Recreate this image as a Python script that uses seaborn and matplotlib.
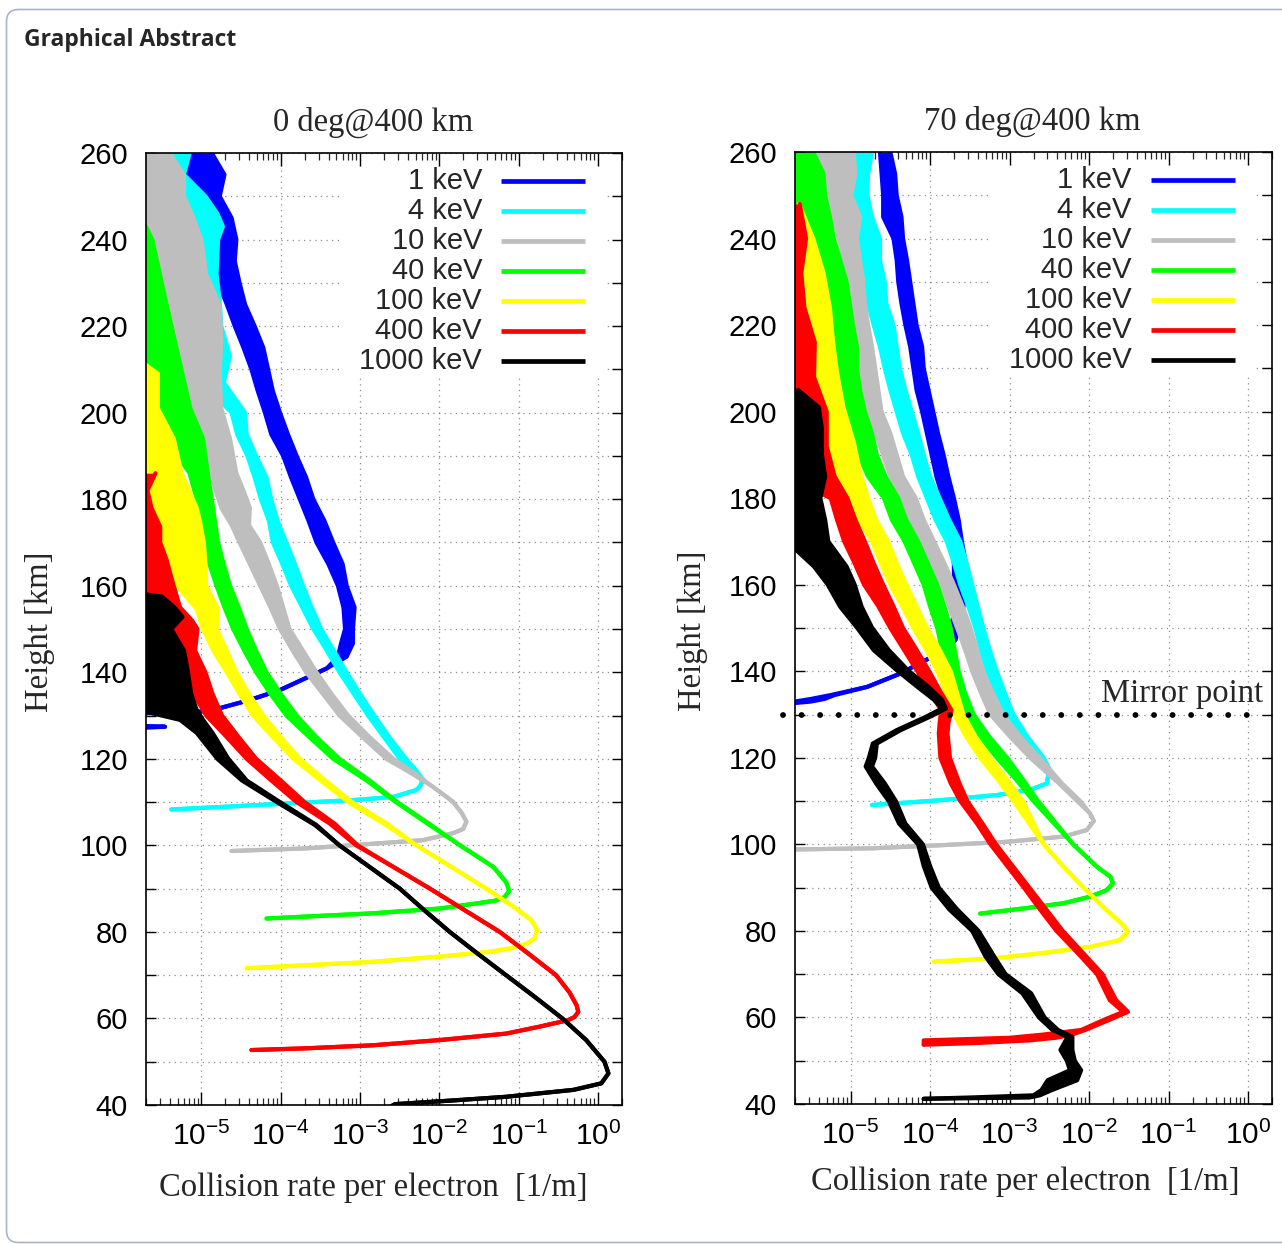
import numpy as np
import matplotlib
matplotlib.use("Agg")
import matplotlib.pyplot as plt
import matplotlib.ticker as mticker
import matplotlib.patches as mpatches
import matplotlib.transforms as mtransforms
import seaborn as sns

sns.set_theme(style="white")
plt.rcParams["font.family"] = ["Liberation Sans", "DejaVu Sans"]
plt.rcParams["mathtext.fontset"] = "custom"
plt.rcParams["mathtext.rm"] = "Liberation Sans"
plt.rcParams["mathtext.it"] = "Liberation Sans:italic"
plt.rcParams["mathtext.bf"] = "Liberation Sans:bold"
SERIF = ["Liberation Serif", "DejaVu Serif"]

# ---------------------------------------------------------------------------
# Collision rate per electron vs. height.
# Each row: (height [km], log10 rate lower edge, log10 rate upper edge).
# Where the Monte-Carlo noise is large the two edges differ; EDGE means the
# noisy trace reaches the left boundary of the plot.
# ---------------------------------------------------------------------------
EDGE = -5.8
ENERGY_LABELS = ["1 keV", "4 keV", "10 keV", "40 keV", "100 keV", "400 keV", "1000 keV"]
ENERGY_COLORS = ["#0000ff", "#00ffff", "#bebebe", "#00ff00", "#ffff00", "#ff0000", "#000000"]
PANEL_TITLES = ["0 deg@400 km", "70 deg@400 km"]
MIRROR_HEIGHT = 130.0

# ---- pitch angle 0 deg ----
pa0_1keV = [
    (260, -5.19, -4.87), (255, -5.19, -4.71), (250, -5.10, -4.77), (245, -5.02, -4.62),
    (240, -4.96, -4.56), (235, -4.92, -4.58), (230, -4.79, -4.52), (225, -4.68, -4.45),
    (220, -4.58, -4.33), (215, -4.47, -4.22), (210, -4.37, -4.16), (205, -4.29, -4.10),
    (200, -4.20, -4.01), (195, -4.12, -3.91), (190, -3.97, -3.80), (185, -3.87, -3.68),
    (180, -3.76, -3.59), (175, -3.65, -3.45), (170, -3.55, -3.34), (165, -3.40, -3.22),
    (160, -3.28, -3.17), (155, -3.21, -3.07), (150, -3.19, -3.09), (146.7, -3.24, -3.09),
    (143.6, -3.28, -3.17), (140.9, -3.42, -3.42), (135.9, -4.01, -4.01), (133.6, -4.39, -4.39),
    (131.7, -4.77, -4.77), (130.9, -5.02, -5.02), (130.5, EDGE, EDGE), (127.6, EDGE, EDGE),
    (127.4, -5.46, -5.46), (127.2, EDGE, EDGE),
]
pa0_4keV = [
    (260, EDGE, -5.15), (255, EDGE, -5.22), (250, EDGE, -4.95), (246, EDGE, -4.80),
    (243, EDGE, -4.73), (240, EDGE, -4.79), (232, EDGE, -4.81), (226, EDGE, -4.77),
    (220, EDGE, -4.75), (213, -5.20, -4.64), (207, -5.00, -4.72), (200, -4.62, -4.45),
    (195, -4.55, -4.43), (190, -4.42, -4.31), (185, -4.33, -4.18), (180, -4.25, -4.12),
    (175, -4.15, -4.04), (170, -4.10, -3.93), (165, -3.98, -3.82), (160, -3.87, -3.72),
    (155, -3.73, -3.61), (150, -3.59, -3.49), (145, -3.42, -3.33), (140, -3.26, -3.17),
    (135, -3.08, -3.00), (130, -2.90, -2.82), (125, -2.70, -2.63), (120, -2.50, -2.42),
    (117.5, -2.32, -2.30), (115.1, -2.22, -2.20), (113.8, -2.24, -2.24), (112.8, -2.29, -2.29),
    (111.2, -2.58, -2.58), (110.5, -3.05, -3.05), (109.7, -3.89, -3.89), (108.9, -4.73, -4.73),
    (108.3, -5.38, -5.38),
]
pa0_10keV = [
    (260, EDGE, -5.40), (255, EDGE, -5.22), (250, EDGE, -5.22), (245, EDGE, -5.10),
    (240, EDGE, -5.00), (232, EDGE, -4.94), (225, EDGE, -4.77), (217, EDGE, -4.75),
    (209, EDGE, -4.77), (201, EDGE, -4.75), (194, -5.30, -4.64), (190, -5.00, -4.60),
    (186, -4.89, -4.56), (182, -4.82, -4.47), (178, -4.75, -4.39), (174, -4.62, -4.40),
    (170, -4.52, -4.26), (165, -4.39, -4.15), (160, -4.26, -4.05), (155, -4.13, -3.97),
    (150, -4.01, -3.89), (145, -3.85, -3.72), (140, -3.68, -3.55), (135, -3.47, -3.36),
    (130, -3.26, -3.15), (125, -2.97, -2.88), (120, -2.67, -2.58), (116.5, -2.34, -2.30),
    (113.5, -2.08, -2.08), (110.1, -1.83, -1.83), (107.5, -1.72, -1.72), (105.5, -1.66, -1.66),
    (103.8, -1.70, -1.70), (102.8, -1.83, -1.83), (101.2, -2.21, -2.21), (100.1, -3.05, -3.05),
    (99.3, -3.68, -3.68), (98.7, -4.62, -4.62),
]
pa0_40keV = [
    (243, EDGE, -5.70), (240, EDGE, -5.62), (235, EDGE, -5.56), (230, EDGE, -5.50),
    (225, EDGE, -5.44), (217, EDGE, -5.34), (209, EDGE, -5.24), (201, EDGE, -5.14),
    (194, -5.45, -4.98), (186, -5.15, -4.92), (180, -5.06, -4.87), (175, -5.04, -4.83),
    (170, -5.02, -4.79), (165, -4.90, -4.72), (160, -4.81, -4.64), (155, -4.71, -4.53),
    (150, -4.60, -4.43), (145, -4.46, -4.31), (140, -4.31, -4.18), (135, -4.13, -4.00),
    (130, -3.93, -3.80), (125, -3.64, -3.55), (120, -3.34, -3.26), (115, -2.92, -2.88),
    (110, -2.55, -2.53), (105, -2.15, -2.13), (100, -1.74, -1.74), (95, -1.32, -1.32),
    (91.5, -1.16, -1.16), (89.5, -1.12, -1.12), (88, -1.18, -1.18), (87.2, -1.30, -1.30),
    (86.6, -1.53, -1.53), (85.4, -2.00, -2.00), (84.3, -2.84, -2.84), (83.1, -4.18, -4.18),
]
pa0_100keV = [
    (211, EDGE, -5.70), (209, EDGE, -5.55), (201, EDGE, -5.55), (194, EDGE, -5.35),
    (186, EDGE, -5.25), (178, EDGE, -5.06), (175, EDGE, -5.02), (170, -5.52, -4.97),
    (165, -5.40, -4.95), (160, -5.31, -4.94), (154.6, -5.06, -4.79), (150, -4.98, -4.81),
    (145, -4.85, -4.68), (140, -4.68, -4.56), (135, -4.52, -4.40), (130, -4.35, -4.22),
    (125, -4.10, -4.00), (120, -3.84, -3.76), (115, -3.50, -3.44), (110, -3.15, -3.10),
    (105, -2.70, -2.66), (100, -2.29, -2.29), (95, -1.85, -1.85), (90, -1.41, -1.41),
    (86, -1.08, -1.08), (82.7, -0.84, -0.84), (80.5, -0.77, -0.77), (78.5, -0.80, -0.80),
    (77.3, -0.90, -0.90), (76.2, -1.10, -1.10), (75.4, -1.37, -1.37), (74.3, -2.00, -2.00),
    (73.1, -2.84, -2.84), (72.3, -3.68, -3.68), (71.6, -4.43, -4.43),
]
pa0_400keV = [
    (186, EDGE, -5.58), (182, EDGE, -5.68), (178, EDGE, -5.63), (173.6, EDGE, -5.52),
    (170, EDGE, -5.52), (166, EDGE, -5.44), (160, EDGE, -5.35), (155, EDGE, -5.27),
    (152, EDGE, -5.12), (150, -5.36, -5.05), (145, -5.27, -5.08), (140, -5.15, -4.95),
    (135, -5.10, -4.86), (130, -4.94, -4.74), (125, -4.68, -4.53), (120, -4.43, -4.31),
    (115, -4.12, -4.00), (110, -3.80, -3.70), (105, -3.38, -3.32), (100, -3.05, -3.03),
    (95, -2.58, -2.58), (90, -2.12, -2.12), (85, -1.68, -1.68), (80, -1.24, -1.24),
    (75, -0.88, -0.88), (70, -0.53, -0.53), (66, -0.36, -0.36), (63, -0.27, -0.27),
    (61.5, -0.25, -0.25), (60.3, -0.30, -0.30), (59.6, -0.38, -0.38), (58.1, -0.74, -0.74),
    (56.5, -1.16, -1.16), (55.0, -2.00, -2.00), (53.8, -2.84, -2.84), (53.1, -3.68, -3.68),
    (52.7, -4.37, -4.37),
]
pa0_1000keV = [
    (158, EDGE, -5.70), (157.5, EDGE, -5.50), (155, EDGE, -5.34), (152.8, EDGE, -5.24),
    (150, EDGE, -5.38), (145, EDGE, -5.22), (140, EDGE, -5.17), (135, EDGE, -5.13),
    (131.3, EDGE, -5.06), (129, -5.27, -4.98), (126, -5.06, -4.86), (120, -4.80, -4.66),
    (115, -4.49, -4.43), (110, -4.05, -4.01), (104.7, -3.57, -3.55), (100, -3.26, -3.26),
    (95, -2.88, -2.88), (90, -2.50, -2.50), (85, -2.19, -2.19), (80, -1.87, -1.87),
    (75, -1.52, -1.52), (70, -1.16, -1.16), (65, -0.80, -0.80), (60, -0.45, -0.45),
    (55, -0.15, -0.15), (50, 0.08, 0.08), (47.3, 0.13, 0.13), (45, 0.04, 0.04),
    (43.5, -0.31, -0.31), (41.9, -1.16, -1.16), (41.1, -1.79, -1.79), (40.2, -2.56, -2.56),
    (39.8, -2.60, -2.60),
]

# ---- pitch angle 70 deg ----
pa70_1keV = [
    (260, -4.63, -4.50), (255, -4.61, -4.44), (250, -4.59, -4.42), (245, -4.59, -4.36),
    (240, -4.46, -4.34), (235, -4.42, -4.29), (230, -4.40, -4.25), (225, -4.36, -4.21),
    (220, -4.31, -4.17), (215, -4.25, -4.10), (210, -4.21, -4.08), (205, -4.17, -4.02),
    (200, -4.10, -3.96), (195, -4.04, -3.90), (190, -3.98, -3.83), (185, -3.92, -3.77),
    (180, -3.84, -3.70), (175, -3.78, -3.64), (170, -3.74, -3.60), (165, -3.70, -3.55),
    (160, -3.70, -3.56), (155, -3.68, -3.58), (150, -3.74, -3.64), (147.2, -3.79, -3.68),
    (144.0, -3.91, -3.91), (139.5, -4.37, -4.37), (136.4, -4.79, -4.79), (134.5, -5.25, -5.20),
    (133.6, -5.50, -5.33), (133.0, -5.70, -5.50), (132.5, EDGE, EDGE),
]
pa70_4keV = [
    (260, -5.22, -4.73), (255, -5.05, -4.78), (250, -5.05, -4.79), (245, -5.00, -4.73),
    (240, -4.92, -4.63), (235, -4.88, -4.63), (230, -4.82, -4.57), (225, -4.78, -4.55),
    (220, -4.71, -4.46), (215, -4.63, -4.42), (210, -4.57, -4.38), (205, -4.50, -4.31),
    (200, -4.42, -4.23), (195, -4.34, -4.15), (190, -4.23, -4.08), (185, -4.15, -4.00),
    (180, -4.04, -3.88), (175, -3.93, -3.76), (170, -3.79, -3.62), (165, -3.70, -3.54),
    (160, -3.62, -3.47), (155, -3.52, -3.40), (150, -3.43, -3.33), (145, -3.36, -3.25),
    (140, -3.28, -3.16), (135, -3.19, -3.06), (130, -3.08, -2.95), (125, -2.90, -2.78),
    (120, -2.70, -2.57), (117.5, -2.54, -2.50), (116.4, -2.51, -2.51), (114.1, -2.53, -2.53),
    (112.6, -2.74, -2.74), (111.4, -3.16, -3.16), (110.2, -3.87, -3.87), (109.1, -4.73, -4.73),
]
pa70_10keV = [
    (260, -5.47, -4.96), (255, -5.39, -4.94), (250, -5.30, -4.99), (245, -5.22, -4.88),
    (240, -5.15, -4.92), (235, -5.09, -4.88), (230, -5.05, -4.84), (225, -5.01, -4.82),
    (220, -4.99, -4.78), (215, -4.94, -4.73), (210, -4.88, -4.69), (205, -4.84, -4.65),
    (200, -4.80, -4.61), (195, -4.69, -4.50), (190, -4.59, -4.42), (185, -4.50, -4.34),
    (180, -4.35, -4.18), (175, -4.25, -4.08), (170, -4.12, -3.95), (165, -4.00, -3.82),
    (160, -3.87, -3.70), (155, -3.76, -3.59), (150, -3.66, -3.49), (145, -3.56, -3.41),
    (140, -3.47, -3.33), (135, -3.36, -3.21), (130, -3.24, -3.08), (125, -3.00, -2.87),
    (120, -2.74, -2.62), (114.1, -2.38, -2.34), (110, -2.15, -2.11), (107.2, -1.99, -1.99),
    (105.4, -1.94, -1.94), (103.3, -2.03, -2.03), (101.8, -2.32, -2.32), (100.6, -3.03, -3.03),
    (99.8, -3.87, -3.87), (99.1, -4.71, -4.71), (98.8, EDGE, EDGE),
]
pa70_40keV = [
    (260, EDGE, -5.47), (255, EDGE, -5.34), (250, EDGE, -5.32), (245, EDGE, -5.26),
    (240, -5.63, -5.21), (235, -5.55, -5.13), (230, -5.47, -5.05), (225, -5.34, -5.01),
    (220, -5.26, -4.97), (215, -5.22, -4.92), (210, -5.18, -4.92), (205, -5.12, -4.88),
    (200, -5.05, -4.82), (195, -4.98, -4.73), (190, -4.90, -4.67), (185, -4.78, -4.56),
    (180, -4.58, -4.40), (175, -4.48, -4.30), (170, -4.32, -4.15), (165, -4.20, -4.03),
    (160, -4.08, -3.91), (155, -4.00, -3.82), (150, -3.91, -3.74), (145, -3.85, -3.69),
    (140, -3.79, -3.64), (135, -3.70, -3.56), (130, -3.58, -3.45), (125, -3.38, -3.26),
    (120, -3.16, -3.03), (115, -2.92, -2.83), (110, -2.70, -2.64), (105, -2.45, -2.42),
    (100, -2.20, -2.20), (94.8, -1.90, -1.90), (92.5, -1.73, -1.73), (91.0, -1.70, -1.70),
    (89.4, -1.78, -1.78), (87.9, -1.99, -1.99), (86.4, -2.32, -2.32), (85.2, -2.82, -2.82),
    (84.0, -3.37, -3.37),
]
pa70_100keV = [
    (248, EDGE, -5.65), (240, EDGE, -5.47), (232, EDGE, -5.34), (224, EDGE, -5.26),
    (216, EDGE, -5.22), (209, EDGE, -5.17), (201, EDGE, -5.09), (193, -5.47, -4.96),
    (186, -5.26, -4.88), (180, -5.00, -4.78), (175, -4.90, -4.68), (170, -4.73, -4.53),
    (165, -4.62, -4.42), (160, -4.50, -4.30), (155, -4.35, -4.17), (150, -4.21, -4.04),
    (145, -4.05, -3.88), (140, -3.91, -3.74), (135, -3.80, -3.66), (130, -3.70, -3.58),
    (125, -3.55, -3.43), (120, -3.37, -3.24), (115, -3.15, -3.03), (110, -2.95, -2.83),
    (105, -2.76, -2.70), (100, -2.57, -2.57), (95, -2.33, -2.33), (90, -2.07, -2.07),
    (84.8, -1.78, -1.78), (81.5, -1.58, -1.58), (79.8, -1.51, -1.51), (77.9, -1.61, -1.61),
    (76.3, -1.99, -1.99), (74.8, -2.62, -2.62), (73.6, -3.24, -3.24), (72.9, -3.95, -3.95),
]
pa70_400keV = [
    (248, EDGE, -5.64), (240, EDGE, -5.56), (232, EDGE, -5.62), (224, EDGE, -5.58),
    (216, EDGE, -5.45), (208, EDGE, -5.46), (200, EDGE, -5.30), (192, EDGE, -5.30),
    (185, EDGE, -5.20), (180, -5.25, -5.04), (175, -5.17, -4.94), (170, -5.08, -4.82),
    (165, -4.95, -4.71), (160, -4.83, -4.59), (155, -4.65, -4.46), (150, -4.50, -4.34),
    (145, -4.33, -4.17), (140, -4.16, -4.01), (135, -4.00, -3.86), (131, -3.86, -3.73),
    (128, -3.88, -3.77), (125.6, -3.89, -3.78), (120, -3.87, -3.75), (114.1, -3.74, -3.63),
    (110, -3.62, -3.53), (104.8, -3.41, -3.34), (100, -3.24, -3.17), (95, -3.03, -2.96),
    (90, -2.82, -2.75), (85, -2.62, -2.54), (80, -2.41, -2.33), (75, -2.15, -2.08),
    (70, -1.90, -1.83), (64, -1.74, -1.66), (61.3, -1.57, -1.51), (59.4, -1.82, -1.75),
    (57.1, -2.10, -2.05), (56.0, -2.60, -2.22), (55.3, -3.00, -2.42), (54.7, -4.08, -2.75),
    (54.1, -4.08, -3.40), (53.7, -4.08, -4.08),
]
pa70_1000keV = [
    (205, EDGE, -5.66), (201, EDGE, -5.40), (196, EDGE, -5.36), (190, EDGE, -5.36),
    (185, EDGE, -5.32), (180, EDGE, -5.38), (175, EDGE, -5.32), (170, EDGE, -5.28),
    (164.2, -5.46, -5.05), (160.1, -5.29, -4.95), (154.9, -5.13, -4.86), (150.1, -4.92, -4.73),
    (144.9, -4.71, -4.52), (140.1, -4.41, -4.27), (136.4, -4.16, -4.02), (133.4, -3.95, -3.85),
    (131.4, -3.85, -3.80), (129.5, -4.05, -4.00), (126.4, -4.42, -4.37), (123.3, -4.72, -4.67),
    (120, -4.77, -4.69), (118, -4.81, -4.73), (114.1, -4.68, -4.57), (110, -4.52, -4.43),
    (104.8, -4.39, -4.31), (100, -4.15, -4.09), (95, -4.08, -4.00), (90, -3.98, -3.89),
    (85, -3.76, -3.66), (80, -3.47, -3.39), (74, -3.30, -3.19), (70, -3.14, -3.05),
    (65.6, -2.84, -2.73), (60, -2.63, -2.56), (57.1, -2.46, -2.39), (55.5, -2.27, -2.21),
    (52.5, -2.36, -2.21), (50, -2.28, -2.18), (47.8, -2.24, -2.10), (45.5, -2.52, -2.15),
    (43.2, -2.60, -2.47), (42.0, -2.70, -2.62), (41.5, -3.50, -2.75), (41.2, -4.08, -4.08),
]

PANEL_0 = [pa0_1keV, pa0_4keV, pa0_10keV, pa0_40keV, pa0_100keV, pa0_400keV, pa0_1000keV]
PANEL_70 = [pa70_1keV, pa70_4keV, pa70_10keV, pa70_40keV, pa70_100keV, pa70_400keV, pa70_1000keV]

X_TICKS = [1e-5, 1e-4, 1e-3, 1e-2, 1e-1, 1e0]
XLIM = (2e-6, 2.0)
YLIM = (40, 260)

W, H = 1282, 1244
fig = plt.figure(figsize=(W / 100, H / 100), dpi=100)
fig.patch.set_facecolor("white")

# rounded frame and heading
frame = mpatches.FancyBboxPatch((6.5, 1.5), 1320, 1233,
                                boxstyle="round,pad=0,rounding_size=12",
                                transform=mtransforms.IdentityTransform(),
                                fill=False, ec="#a9b3c9", lw=1.2)
fig.add_artist(frame)
fig.text(24 / W, 1 - 40 / H, "Graphical Abstract", ha="left", va="center",
         fontsize=16.5, fontweight="bold", family=["Open Sans", "DejaVu Sans"])

ax_l = fig.add_axes([146 / W, 1 - 1105 / H, 476 / W, 952 / H])
ax_r = fig.add_axes([795 / W, 1 - 1104 / H, 477 / W, 952 / H])


def decade_label(v, pos):
    e = int(round(np.log10(v)))
    return r"$\mathregular{10^{%d}}$" % e


def draw_panel(ax, curves, title, title_x, ylab_x, xlab_x, xlab_y):
    ax.set_xscale("log")
    for i, (rows, color) in enumerate(zip(curves, ENERGY_COLORS)):
        arr = np.array(rows, dtype=float)
        h = arr[:, 0]
        lo = 10.0 ** arr[:, 1]
        hi = 10.0 ** arr[:, 2]
        z = 2 + 0.1 * i
        ax.fill_betweenx(h, lo, hi, color=color, lw=0, zorder=z)
        for edge in (lo, hi):
            sns.lineplot(x=edge, y=h, orient="y", sort=False, estimator=None,
                         color=color, lw=3.0, ax=ax, legend=False, zorder=z)

    ax.set_xlim(*XLIM)
    ax.set_ylim(*YLIM)
    ax.set_xticks(X_TICKS)
    ax.xaxis.set_major_formatter(mticker.FuncFormatter(decade_label))
    ax.xaxis.set_minor_locator(mticker.LogLocator(base=10, subs=np.arange(2, 10), numticks=30))
    ax.xaxis.set_minor_formatter(mticker.NullFormatter())
    ax.yaxis.set_major_locator(mticker.MultipleLocator(20))
    ax.yaxis.set_minor_locator(mticker.MultipleLocator(10))

    ax.tick_params(axis="x", which="major", direction="in", length=9.5, width=1.0,
                   top=True, bottom=True, labelsize=21.5, pad=12, colors="black")
    ax.tick_params(axis="x", which="minor", direction="in", length=5, width=0.9,
                   top=True, bottom=True)
    ax.tick_params(axis="y", which="both", direction="in", length=7.5, width=1.0,
                   left=True, right=True, labelsize=21, pad=13, colors="black")

    ax.set_axisbelow(True)
    grid_kw = dict(color="#8c8c8c", lw=0.9, ls=(0, (1, 3.5)))
    ax.grid(True, which="major", axis="x", **grid_kw)
    ax.grid(True, which="both", axis="y", **grid_kw)
    for sp in ax.spines.values():
        sp.set_color("black")
        sp.set_linewidth(1.2)

    # legend block (white background hides the grid behind it)
    ax.add_patch(mpatches.Rectangle((0.405, 0.765), 0.56, 0.22, transform=ax.transAxes,
                                    facecolor="white", lw=0, zorder=1.5))
    for i, (lab, color) in enumerate(zip(ENERGY_LABELS, ENERGY_COLORS)):
        y = 0.9706 - i * 0.0315
        ax.text(0.706, y, lab, transform=ax.transAxes, ha="right", va="center",
                fontsize=21, zorder=6)
        ax.plot([0.746, 0.922], [y, y], transform=ax.transAxes, color=color,
                lw=3.4, solid_capstyle="butt", zorder=6)

    ax.text(title_x, 1.0326, title, transform=ax.transAxes, ha="center", va="center",
            fontsize=23.5, family=SERIF)
    ax.set_ylabel("Height [km]", fontsize=23.5, family=SERIF, va="center")
    ax.yaxis.set_label_coords(ylab_x, 0.497)
    ax.set_xlabel("Collision rate per electron  [1/m]", fontsize=23.5, family=SERIF,
                  va="center")
    ax.xaxis.set_label_coords(xlab_x, xlab_y)


draw_panel(ax_l, PANEL_0, PANEL_TITLES[0], 0.477, -0.223, 0.478, -0.087)
draw_panel(ax_r, PANEL_70, PANEL_TITLES[1], 0.497, -0.214, 0.483, -0.082)

# mirror point of the 70 deg electrons
mtrans = mtransforms.blended_transform_factory(ax_r.transAxes, ax_r.transData)
ax_r.plot([-0.025, 0.979], [MIRROR_HEIGHT, MIRROR_HEIGHT], transform=mtrans, color="black",
          lw=4.2, ls=(0, (0.01, 3.17)), dash_capstyle="round", clip_on=False, zorder=7)
ax_r.text(0.981, MIRROR_HEIGHT + 4.9, "Mirror point", transform=mtrans, ha="right",
          va="center", fontsize=23.5, family=SERIF, zorder=7)

fig.savefig("out.png", dpi=100, facecolor="white")
